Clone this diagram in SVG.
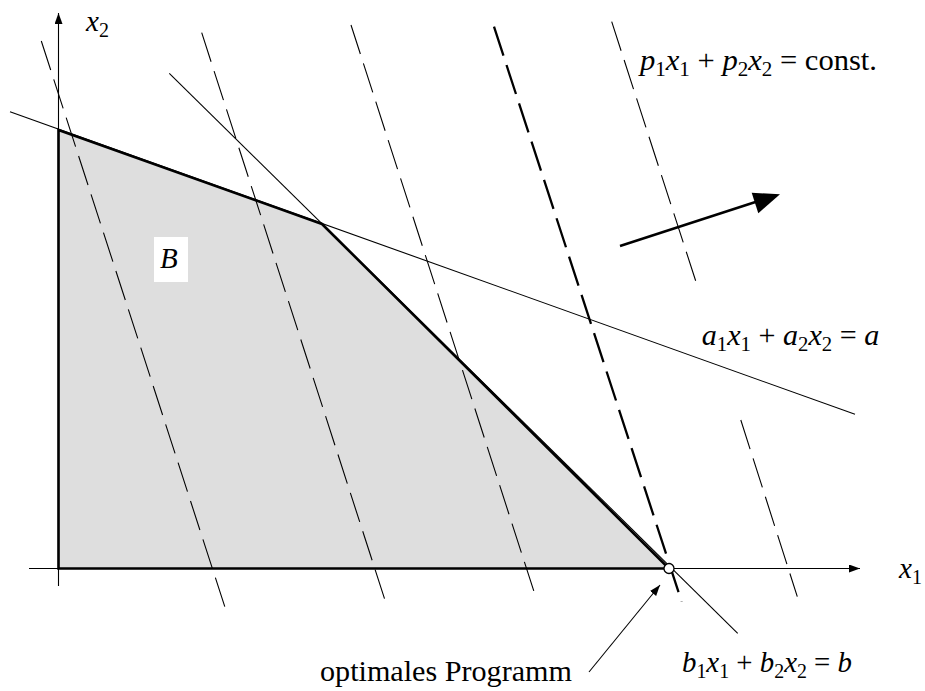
<svg xmlns="http://www.w3.org/2000/svg" width="925" height="691" viewBox="0 0 925 691">
<style>
.thin{stroke:#000;stroke-width:1.1;fill:none}
.dash{stroke:#000;stroke-width:1.1;fill:none;stroke-dasharray:30.5 9.8}
.dashbold{stroke:#000;stroke-width:2.3;fill:none;stroke-dasharray:30.5 9.8}
.edge{stroke:#000;stroke-width:2.6;fill:#dedede;stroke-linejoin:miter}
text{font-family:'Liberation Serif','DejaVu Serif','Noto Serif','FreeSerif','Tinos','Times New Roman',Times,serif;font-size:29px;fill:#000}
.i{font-style:italic}
.sub{font-size:20px;font-style:normal}
</style>
<defs>
<marker id="ax" markerWidth="12" markerHeight="10" refX="11" refY="4" orient="auto" markerUnits="userSpaceOnUse">
<path d="M0,0 L11,4 L0,8 Z" fill="#000"/>
</marker>
<marker id="sm" markerWidth="12" markerHeight="10" refX="11" refY="4" orient="auto" markerUnits="userSpaceOnUse">
<path d="M0,0 L11,4 L0,8 Z" fill="#000"/>
</marker>
</defs>
<rect width="925" height="691" fill="#fff"/>

<g id="region-B">
<polygon class="edge" points="58.5,130 322,224 669,568.5 58.5,568.5"/>
</g>

<g id="axes">
<line class="thin" x1="29" y1="568.5" x2="860" y2="568.5" marker-end="url(#ax)"/>
<line class="thin" x1="58.5" y1="586" x2="58.5" y2="13" marker-end="url(#ax)"/>
</g>

<g id="constraints">
<line id="line-a" class="thin" x1="10" y1="111.7" x2="855" y2="414.3"/>
<line id="line-b" class="thin" x1="169.3" y1="73.3" x2="737.7" y2="633.3"/>
</g>

<g id="isoprofit-lines">
<line class="dash" x1="41.3" y1="41" x2="227.7" y2="615.7"/>
<line class="dash" x1="201.7" y1="32.7" x2="387.3" y2="607.3"/>
<line class="dash" x1="351" y1="25" x2="536.7" y2="600"/>
<line class="dashbold" x1="494" y1="26.7" x2="681.7" y2="601.7"/>
<line class="dash" x1="611.7" y1="21.7" x2="696.7" y2="284"/>
<line class="dash" x1="740.8" y1="420" x2="797.3" y2="596.7"/>
</g>

<g id="direction-arrow">
<line x1="620" y1="246" x2="757" y2="201.5" stroke="#000" stroke-width="2.5"/>
<polygon points="780,194.3 751.7,192.7 758.3,213.3" fill="#000"/>
</g>

<g id="optimum">
<circle cx="669" cy="568.5" r="5" fill="#fff" stroke="#000" stroke-width="1.3"/>
</g>

<g id="connectors">
<line class="thin" x1="589" y1="672" x2="660" y2="585" marker-end="url(#sm)"/>
</g>

<g id="labels">
<text class="i" x="86" y="31">x<tspan class="sub" dy="6">2</tspan></text>
<text class="i" x="899" y="578">x<tspan class="sub" dy="6">1</tspan></text>
<g id="label-B">
<rect x="154" y="237" width="34" height="45" fill="#fff"/>
<text class="i" x="160" y="268">B</text>
</g>
<text x="640" y="70" textLength="237" lengthAdjust="spacingAndGlyphs"><tspan class="i">p</tspan><tspan class="sub" dy="6">1</tspan><tspan class="i" dy="-6">x</tspan><tspan class="sub" dy="6">1</tspan><tspan dy="-6"> + </tspan><tspan class="i">p</tspan><tspan class="sub" dy="6">2</tspan><tspan class="i" dy="-6">x</tspan><tspan class="sub" dy="6">2</tspan><tspan dy="-6"> = const.</tspan></text>
<text x="701.7" y="345" textLength="177.6" lengthAdjust="spacingAndGlyphs"><tspan class="i">a</tspan><tspan class="sub" dy="6">1</tspan><tspan class="i" dy="-6">x</tspan><tspan class="sub" dy="6">1</tspan><tspan dy="-6"> + </tspan><tspan class="i">a</tspan><tspan class="sub" dy="6">2</tspan><tspan class="i" dy="-6">x</tspan><tspan class="sub" dy="6">2</tspan><tspan dy="-6"> = </tspan><tspan class="i">a</tspan></text>
<text x="682" y="672" textLength="170" lengthAdjust="spacingAndGlyphs"><tspan class="i">b</tspan><tspan class="sub" dy="6">1</tspan><tspan class="i" dy="-6">x</tspan><tspan class="sub" dy="6">1</tspan><tspan dy="-6"> + </tspan><tspan class="i">b</tspan><tspan class="sub" dy="6">2</tspan><tspan class="i" dy="-6">x</tspan><tspan class="sub" dy="6">2</tspan><tspan dy="-6"> = </tspan><tspan class="i">b</tspan></text>
<text x="320" y="681" textLength="252" lengthAdjust="spacingAndGlyphs">optimales Programm</text>
</g>
</svg>
